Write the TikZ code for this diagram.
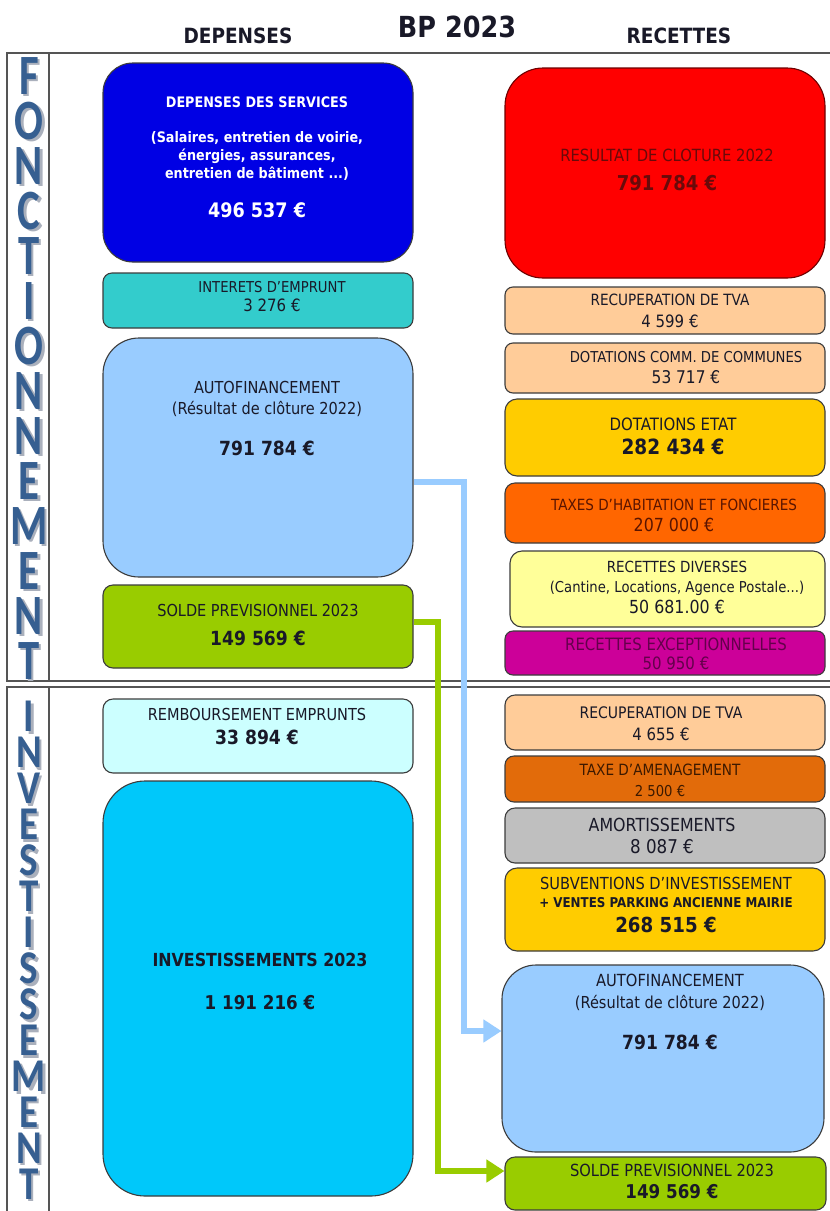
\documentclass[tikz,border=0pt]{standalone}
\usepackage{fontspec}
\setmainfont{DejaVu Sans}[FakeStretch=0.88]
\newfontfamily\vfont{Carlito}
\usetikzlibrary{arrows.meta}
\definecolor{txtc}{RGB}{25,25,40}
\definecolor{boxline}{RGB}{60,60,60}
\definecolor{framec}{RGB}{85,85,85}
\definecolor{cBlue}{RGB}{0,0,228}
\definecolor{cTeal}{RGB}{51,204,204}
\definecolor{cLBlue}{RGB}{153,204,255}
\definecolor{cGreen}{RGB}{153,204,0}
\definecolor{cLCyan}{RGB}{204,255,255}
\definecolor{cCyan}{RGB}{0,200,250}
\definecolor{cRed}{RGB}{255,0,0}
\definecolor{cPeach}{RGB}{255,204,153}
\definecolor{cGold}{RGB}{255,204,0}
\definecolor{cOrange}{RGB}{255,102,0}
\definecolor{cLYellow}{RGB}{255,255,153}
\definecolor{cMagenta}{RGB}{204,0,153}
\definecolor{cBrown}{RGB}{226,107,10}
\definecolor{cGray}{RGB}{191,191,191}
\definecolor{tRed}{RGB}{105,10,10}
\definecolor{tMag}{RGB}{100,0,75}
\definecolor{tOrange}{RGB}{90,20,0}
\definecolor{tBrown}{RGB}{60,25,0}
\definecolor{vLetter}{RGB}{54,95,145}
\definecolor{vShadow}{RGB}{170,176,188}
\definecolor{redline}{RGB}{110,0,0}
\newcommand\fsz[1]{\fontsize{#1}{#1}\selectfont}
\newcommand\txtline[6][]{\node[tline,font=\fsz{#5},#1] (#2) at ({#3},{#4+0.365*#5}) {#6};}
\newcommand\shletter[2]{\rlap{\hspace{2.5pt}\raisebox{-2.5pt}{\textcolor{vShadow}{\scalebox{#1}[1]{#2}}}}\scalebox{#1}[1]{#2}}
\tikzset{
  box/.style={draw=boxline, line width=1.1pt, inner sep=0pt},
  tline/.style={inner sep=0pt, text=txtc, anchor=base},
  frame/.style={draw=framec, line width=1.5pt},
  vletter/.style={inner sep=0pt, text=vLetter, font=\vfont\bfseries\fsz{#1}},
  flowblue/.style={draw=cLBlue, line width=6pt, -{Triangle[length=18pt,width=22pt]}},
  flowgreen/.style={draw=cGreen, line width=6pt, -{Triangle[length=18pt,width=22pt]}},
}
\begin{document}
\begin{tikzpicture}[x=1pt,y=-1pt]
\useasboundingbox (0,0) rectangle (830,1211);
\fill[white] (0,0) rectangle (830,1211);

% headers
\txtline{hdep}{238}{36}{21}{\bfseries DEPENSES}
\txtline{hbp}{457}{27}{29}{\bfseries BP 2023}
\txtline{hrec}{679}{36}{21}{\bfseries RECETTES}

% frames
\draw[frame] (7,53) rectangle (845,681);
\draw[frame] (49,53) -- (49,681);
\draw[frame] (7,687) rectangle (845,1225);
\draw[frame] (49,687) -- (49,1225);

% vertical words
\foreach \l [count=\i from 0] in {F,O,N,C,T,I,O,N,N,E,M,E,N,T} {
  \node[vletter=57] (fl\i) at (29,{77+45*\i}) {\shletter{0.75}{\l}};
}
\foreach \l [count=\i from 0] in {I,N,V,E,S,T,I,S,S,E,M,E,N,T} {
  \node[vletter=47] (il\i) at (29,{718+35.95*\i}) {\shletter{0.83}{\l}};
}

% left boxes - fonctionnement
\node[box, fill=cBlue, minimum width=310pt, minimum height=199pt, rounded corners=30pt] (dep) at (258,162.5) {};
\node[box, fill=cTeal, minimum width=310pt, minimum height=55pt, rounded corners=9pt] (intr) at (258,300.5) {};
\node[box, fill=cLBlue, minimum width=310pt, minimum height=239pt, rounded corners=36pt] (autoL) at (258,457.5) {};
\node[box, fill=cGreen, minimum width=310pt, minimum height=83pt, rounded corners=10pt] (soldeL) at (258,626.5) {};
% left boxes - investissement
\node[box, fill=cLCyan, minimum width=310pt, minimum height=74pt, rounded corners=10pt] (remb) at (258,736) {};
\node[box, fill=cCyan, minimum width=310pt, minimum height=415pt, rounded corners=42pt] (inv) at (258,988.5) {};

% right boxes - fonctionnement
\node[box, draw=redline, fill=cRed, minimum width=320pt, minimum height=210pt, rounded corners=38pt] (res) at (665,173) {};
\node[box, fill=cPeach, minimum width=320pt, minimum height=47pt, rounded corners=8pt] (tva1) at (665,310.5) {};
\node[box, fill=cPeach, minimum width=320pt, minimum height=50pt, rounded corners=8pt] (dotcc) at (665,368) {};
\node[box, fill=cGold, minimum width=320pt, minimum height=77pt, rounded corners=12pt] (dotet) at (665,437.5) {};
\node[box, fill=cOrange, minimum width=320pt, minimum height=60pt, rounded corners=10pt] (tax) at (665,513) {};
\node[box, fill=cLYellow, minimum width=315pt, minimum height=76pt, rounded corners=12pt] (div) at (667.5,589) {};
\node[box, fill=cMagenta, minimum width=320pt, minimum height=44pt, rounded corners=8pt] (exc) at (665,653) {};
% right boxes - investissement
\node[box, fill=cPeach, minimum width=320pt, minimum height=55pt, rounded corners=10pt] (tva2) at (665,722.5) {};
\node[box, fill=cBrown, minimum width=320pt, minimum height=46pt, rounded corners=9pt] (tam) at (665,779) {};
\node[box, fill=cGray, minimum width=320pt, minimum height=55pt, rounded corners=10pt] (amo) at (665,835.5) {};
\node[box, fill=cGold, minimum width=320pt, minimum height=83pt, rounded corners=12pt] (sub) at (665,909.5) {};
\node[box, fill=cLBlue, minimum width=322pt, minimum height=187pt, rounded corners=34pt] (autoR) at (663,1058.5) {};
\node[box, fill=cGreen, minimum width=321pt, minimum height=53pt, rounded corners=10pt] (soldeR) at (665.5,1183.5) {};

% texts left
\txtline[text=white]{depA}{257}{102}{14.5}{\bfseries DEPENSES DES SERVICES}
\txtline[text=white]{depB}{257}{137}{14.5}{\bfseries (Salaires, entretien de voirie,}
\txtline[text=white]{depC}{257}{155}{14.5}{\bfseries énergies, assurances,}
\txtline[text=white]{depD}{257}{173}{14.5}{\bfseries entretien de bâtiment ...)}
\txtline[text=white]{depE}{257}{210}{20}{\bfseries 496 537 €}
\txtline{intA}{272}{287}{15}{INTERETS D’EMPRUNT}
\txtline{intB}{272}{305}{17}{3 276 €}
\txtline{alA}{267}{387}{16.5}{AUTOFINANCEMENT}
\txtline{alB}{267}{408}{16.5}{(Résultat de clôture 2022)}
\txtline{alC}{267}{448}{19.5}{\bfseries 791 784 €}
\txtline{slA}{258}{610}{16.5}{SOLDE PREVISIONNEL 2023}
\txtline{slB}{258}{638}{19.5}{\bfseries 149 569 €}
\txtline{rbA}{257}{714}{16.5}{REMBOURSEMENT EMPRUNTS}
\txtline{rbB}{257}{737}{19.5}{\bfseries 33 894 €}
\txtline{ivA}{260}{960}{18}{\bfseries INVESTISSEMENTS 2023}
\txtline{ivB}{260}{1003}{19}{\bfseries 1 191 216 €}

% texts right
\txtline[text=tRed]{rsA}{667}{155}{16.8}{RESULTAT DE CLOTURE 2022}
\txtline[text=tRed]{rsB}{667}{183}{20.5}{\bfseries 791 784 €}
\txtline{t1A}{670}{300}{15.5}{RECUPERATION DE TVA}
\txtline{t1B}{670}{321}{17}{4 599 €}
\txtline{dcA}{686}{357}{15}{DOTATIONS COMM. DE COMMUNES}
\txtline{dcB}{686}{377}{17.5}{53 717 €}
\txtline{deA}{673}{424}{17}{DOTATIONS ETAT}
\txtline{deB}{673}{447}{21}{\bfseries 282 434 €}
\txtline[text=tOrange]{txA}{674}{505}{15.4}{TAXES D’HABITATION ET FONCIERES}
\txtline[text=tOrange]{txB}{674}{525}{18}{207 000 €}
\txtline{dvA}{677}{567}{15.3}{RECETTES DIVERSES}
\txtline{dvB}{677}{587}{15}{(Cantine, Locations, Agence Postale...)}
\txtline{dvC}{677}{607}{18}{50 681.00 €}
\txtline[text=tMag]{exA}{676}{644}{17}{RECETTES EXCEPTIONNELLES}
\txtline[text=tMag]{exB}{676}{663}{17}{50 950 €}
\txtline{t2A}{661}{713}{15.9}{RECUPERATION DE TVA}
\txtline{t2B}{661}{734}{17}{4 655 €}
\txtline[text=tBrown]{taA}{660}{770}{15.5}{TAXE D’AMENAGEMENT}
\txtline[text=tBrown]{taB}{660}{791}{15}{2 500 €}
\txtline{amA}{662}{825}{18}{AMORTISSEMENTS}
\txtline{amB}{662}{847}{19}{8 087 €}
\txtline{sbA}{666}{883}{16.6}{SUBVENTIONS D’INVESTISSEMENT}
\txtline{sbB}{666}{903}{13.5}{\bfseries + VENTES PARKING ANCIENNE MAIRIE}
\txtline{sbC}{666}{925}{20.7}{\bfseries 268 515 €}
\txtline{arA}{670}{980}{16.7}{AUTOFINANCEMENT}
\txtline{arB}{670}{1002}{16.5}{(Résultat de clôture 2022)}
\txtline{arC}{670}{1042}{19.5}{\bfseries 791 784 €}
\txtline{srA}{672}{1170}{16.7}{SOLDE PREVISIONNEL 2023}
\txtline{srB}{672}{1192}{19}{\bfseries 149 569 €}

% flows
\coordinate (b1) at (464,482);
\coordinate (b2) at (464,1031);
\draw[flowblue] (autoL.east |- b1) -- (b1) -- (b2) -- (autoR.west |- b2);
\coordinate (g1) at (438,622);
\coordinate (g2) at (438,1171);
\draw[flowgreen] (soldeL.east |- g1) -- (g1) -- (g2) -- (soldeR.west |- g2);
\end{tikzpicture}
\end{document}
